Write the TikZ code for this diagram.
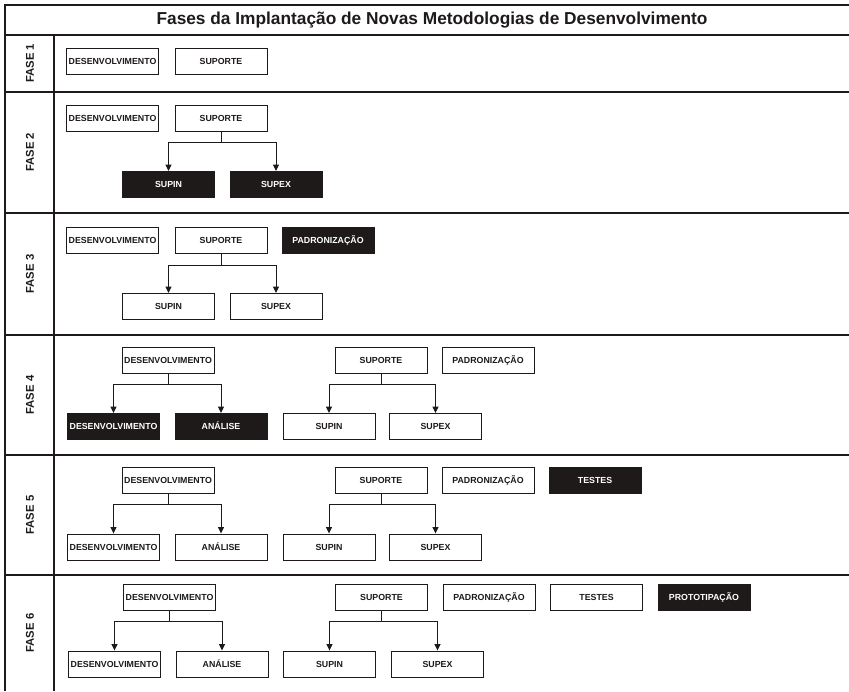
\documentclass[tikz,border=0pt]{standalone}
\usepackage{fontspec}
\setmainfont{Liberation Sans}
\usetikzlibrary{arrows.meta}
\definecolor{ink}{HTML}{1E1A1A}
\tikzset{
  box/.style={draw=ink, line width=0.9pt, fill=white, minimum width=92pt, minimum height=26pt, inner sep=0pt, text height=6.3pt, text depth=0pt, font=\fontsize{8.8}{9}\selectfont\bfseries, text=ink},
  darkbox/.style={box, fill=ink, text=white},
  frame/.style={draw=ink, line width=1.8pt},
  conn/.style={draw=ink, line width=1pt, -{Triangle[width=6pt,length=6.5pt]}},
  trunk/.style={draw=ink, line width=1pt},
  faselbl/.style={rotate=90, font=\fontsize{11.3}{12}\selectfont\bfseries, text=ink},
}
\begin{document}
\begin{tikzpicture}[x=1pt,y=-1pt]
\useasboundingbox (0,0) rectangle (849,691);
% frame
\draw[frame] (849,5) -- (5,5) -- (5,691);
\draw[frame] (5,35) -- (849,35);
\foreach \yy in {92,213,335,455,575} \draw[frame] (5,\yy) -- (849,\yy);
\draw[draw=ink, line width=1.2pt] (54,35) -- (54,691);
\node[font=\fontsize{17.3}{19}\selectfont\bfseries, text=ink] (title) at (432,20) {Fases da Implantação de Novas Metodologias de Desenvolvimento};
% phase labels
\node[faselbl] (f1) at (30,63.5) {FASE 1};
\node[faselbl] (f2) at (30,152.5) {FASE 2};
\node[faselbl] (f3) at (30,274) {FASE 3};
\node[faselbl] (f4) at (30,395) {FASE 4};
\node[faselbl] (f5) at (30,515) {FASE 5};
\node[faselbl] (f6) at (30,633) {FASE 6};
% FASE 1
\node[box] (d1) at (112.5,61.5) {DESENVOLVIMENTO};
\node[box] (s1) at (221,61.5) {SUPORTE};
% FASE 2
\node[box] (d2) at (112.5,118) {DESENVOLVIMENTO};
\node[box] (s2) at (221,118) {SUPORTE};
\node[darkbox] (pi2) at (168.5,184.5) {SUPIN};
\node[darkbox] (pe2) at (276,184.5) {SUPEX};
\draw[trunk] (s2.south) -- (221,142);
\draw[conn] (221,142) -| (pi2.north);
\draw[conn] (221,142) -| (pe2.north);
% FASE 3
\node[box] (d3) at (112.5,240) {DESENVOLVIMENTO};
\node[box] (s3) at (221,240) {SUPORTE};
\node[darkbox] (p3) at (328,240) {PADRONIZAÇÃO};
\node[box] (pi3) at (168.5,306.5) {SUPIN};
\node[box] (pe3) at (276,306.5) {SUPEX};
\draw[trunk] (s3.south) -- (221,265);
\draw[conn] (221,265) -| (pi3.north);
\draw[conn] (221,265) -| (pe3.north);
% FASE 4
\node[box] (d4) at (168,360) {DESENVOLVIMENTO};
\node[box] (s4) at (381,360) {SUPORTE};
\node[box] (p4) at (488,360) {PADRONIZAÇÃO};
\node[darkbox] (dd4) at (113.5,426.5) {DESENVOLVIMENTO};
\node[darkbox] (an4) at (221,426.5) {ANÁLISE};
\node[box] (pi4) at (329,426.5) {SUPIN};
\node[box] (pe4) at (435.5,426.5) {SUPEX};
\draw[trunk] (d4.south) -- (168,384);
\draw[conn] (168,384) -| (dd4.north);
\draw[conn] (168,384) -| (an4.north);
\draw[trunk] (s4.south) -- (381,384);
\draw[conn] (381,384) -| (pi4.north);
\draw[conn] (381,384) -| (pe4.north);
% FASE 5
\node[box] (d5) at (168,480) {DESENVOLVIMENTO};
\node[box] (s5) at (381,480) {SUPORTE};
\node[box] (p5) at (488,480) {PADRONIZAÇÃO};
\node[darkbox] (t5) at (595,480.5) {TESTES};
\node[box] (dd5) at (113.5,547) {DESENVOLVIMENTO};
\node[box] (an5) at (221,547) {ANÁLISE};
\node[box] (pi5) at (329,547) {SUPIN};
\node[box] (pe5) at (435.5,547) {SUPEX};
\draw[trunk] (d5.south) -- (168,504);
\draw[conn] (168,504) -| (dd5.north);
\draw[conn] (168,504) -| (an5.north);
\draw[trunk] (s5.south) -- (381,504);
\draw[conn] (381,504) -| (pi5.north);
\draw[conn] (381,504) -| (pe5.north);
% FASE 6
\node[box] (d6) at (169.5,597) {DESENVOLVIMENTO};
\node[box] (s6) at (381.5,597) {SUPORTE};
\node[box] (p6) at (489,597) {PADRONIZAÇÃO};
\node[box] (t6) at (596.5,597) {TESTES};
\node[darkbox] (pr6) at (704,597) {PROTOTIPAÇÃO};
\node[box] (dd6) at (114.5,664) {DESENVOLVIMENTO};
\node[box] (an6) at (222,664) {ANÁLISE};
\node[box] (pi6) at (329.5,664) {SUPIN};
\node[box] (pe6) at (437.5,664) {SUPEX};
\draw[trunk] (d6.south) -- (169.5,621);
\draw[conn] (169.5,621) -| (dd6.north);
\draw[conn] (169.5,621) -| (an6.north);
\draw[trunk] (s6.south) -- (381.5,621);
\draw[conn] (381.5,621) -| (pi6.north);
\draw[conn] (381.5,621) -| (pe6.north);
\end{tikzpicture}
\end{document}
